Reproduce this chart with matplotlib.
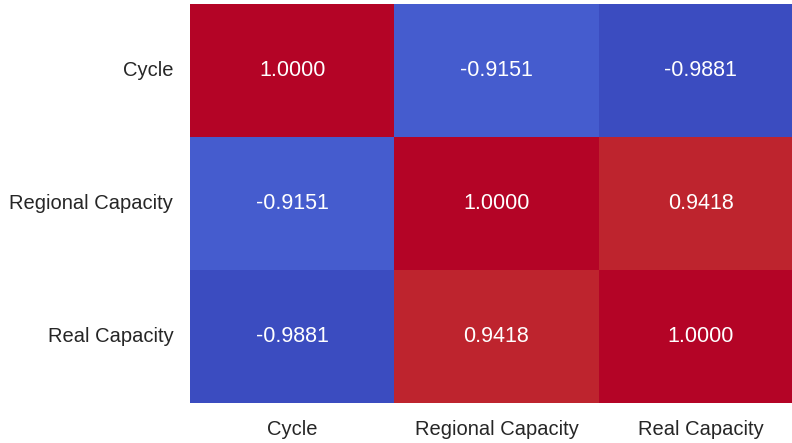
import matplotlib
matplotlib.use("Agg")
import matplotlib.pyplot as plt
import numpy as np
import seaborn as sns

labels = ["Cycle", "Regional Capacity", "Real Capacity"]
corr = [[1.0000, -0.9151, -0.9881],
        [-0.9151, 1.0000, 0.9418],
        [-0.9881, 0.9418, 1.0000]]

plt.rcParams['font.family'] = ['Liberation Sans', 'DejaVu Sans']
fig = plt.figure(figsize=(7.92, 4.43), dpi=100)
ax = fig.add_axes([190/792, 40/443, 613/792, 399/443])
sns.heatmap(np.array(corr), annot=True, fmt=".4f", cmap="coolwarm", cbar=False,
            xticklabels=labels, yticklabels=labels, ax=ax,
            annot_kws={"fontsize": 15.5, "color": "white"})
ax.tick_params(axis='both', length=0, labelsize=14.5, labelcolor="#262626")
ax.tick_params(axis='y', pad=12, rotation=0)
ax.tick_params(axis='x', pad=12)
fig.savefig("out.png", dpi=100)
